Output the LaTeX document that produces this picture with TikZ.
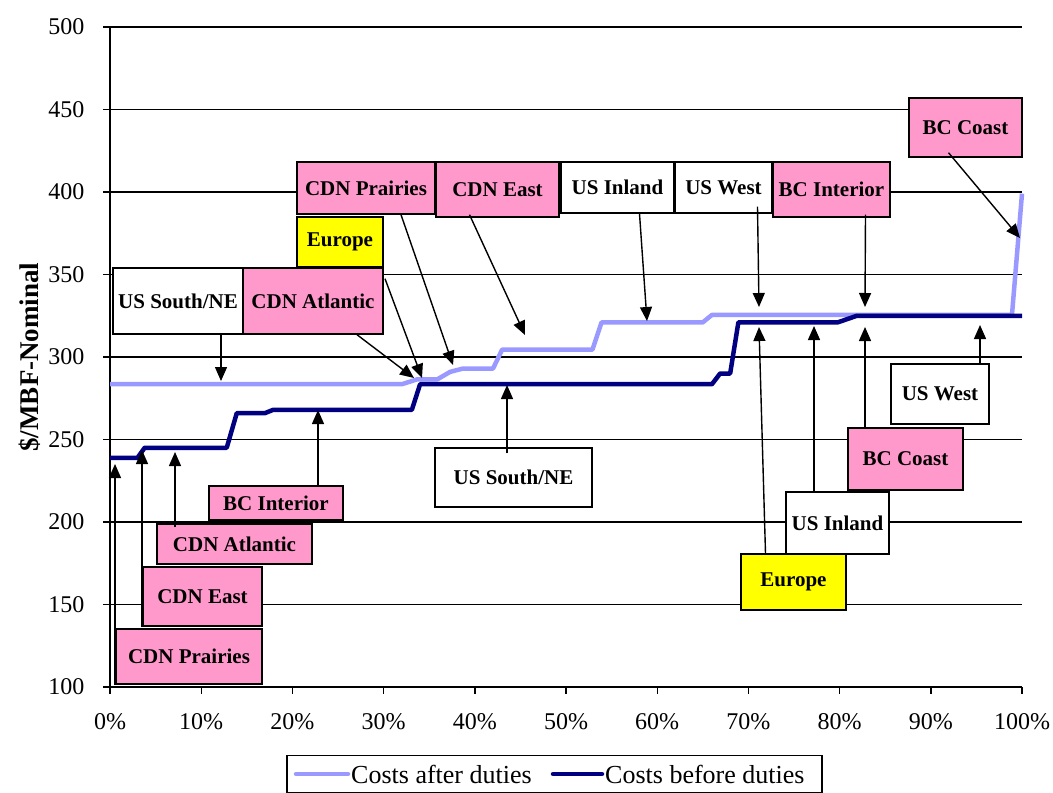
\documentclass[tikz,border=0pt]{standalone}
\usepackage{fontspec}
\setmainfont{Liberation Serif}
\usetikzlibrary{arrows.meta}

\definecolor{afterc}{HTML}{9999FF}
\definecolor{beforec}{HTML}{000080}
\definecolor{cdnpink}{HTML}{FF99CC}
\definecolor{euyellow}{HTML}{FFFF00}

\tikzset{
  lbl/.style={draw=black, line width=1.4pt, inner sep=0pt,
    font=\fontsize{21}{24}\selectfont\bfseries},
  cdn/.style={lbl, fill=cdnpink},
  us/.style={lbl, fill=white},
  eu/.style={lbl, fill=euyellow},
  sz/.style 2 args={minimum width=#1pt, minimum height=#2pt},
  ptr/.style={line width=1.4pt, -{Triangle[length=14pt,width=12pt]}},
  grid line/.style={line width=1.1pt},
  tick lbl/.style={font=\fontsize{24}{26}\selectfont},
}

\begin{document}
\begin{tikzpicture}[x=1pt, y=-1pt]
    \useasboundingbox (0,0) rectangle (1053,793);

    \begin{scope}[shift={(110,687)}, x=9.12pt, y=1.65pt]
    \foreach \v in {50,100,...,400}
        \draw[grid line] (0,\v) -- (100,\v);
    \draw[line width=1.4pt] (0,400) -- (0,0) -- (100,0);
    \foreach \v in {0,50,...,400} {
        \draw[line width=1.4pt] (0,\v) -- ++(-7pt,0pt);
        \pgfmathtruncatemacro{\lab}{\v+100}
        \node[tick lbl, anchor=east] (yl\lab) at ([xshift=-22pt]0,\v) {\lab};
    }
    \foreach \p in {0,10,...,100} {
        \draw[line width=1.4pt] (\p,0) -- ++(0pt,-7pt);
        \node[tick lbl] (xl\p) at ([yshift=-35pt]\p,0) {\p\%};
    }
    \draw[afterc, line width=4.5pt, line join=round]
        (0,183.5) -- (32,183.5) -- (33.7,186.5) -- (35.9,186.5) -- (37.3,191)
        -- (38.7,193) -- (42,193) -- (43,204.5) -- (52.9,204.5) -- (53.9,221)
        -- (65,221) -- (66,225.5) -- (98.9,225.5) -- (100,299);
    \draw[beforec, line width=4.5pt, line join=round]
        (0,138.8) -- (3,138.8) -- (3.8,145) -- (12.8,145) -- (13.9,166)
        -- (17,166) -- (17.9,168) -- (33.1,168) -- (34,183.5) -- (66,183.5)
        -- (66.9,190) -- (68,190) -- (68.9,221) -- (79.8,221) -- (81.9,225)
        -- (100,225);
    \end{scope}

    \node[rotate=90, font=\fontsize{27}{29}\selectfont\bfseries] (ytitle) at (30,357) {\$/MBF-Nominal};

    % boxes above the curves
    \node[cdn, sz={138}{52}] (cpA) at (366,188) {CDN Prairies};
    \node[cdn, sz={123}{55}] (ceA) at (497.5,189.5) {CDN East};
    \node[us, sz={113}{51}] (uiA) at (617.5,187.5) {US Inland};
    \node[us, sz={97}{51}] (uwA) at (723.5,187.5) {US West};
    \node[cdn, sz={117}{55}] (biA) at (831.5,189.5) {BC Interior};
    \node[cdn, sz={113}{59}] (bcA) at (965.5,127.5) {BC Coast};
    \node[eu, sz={86}{50}] (euA) at (340,242) {Europe};
    \node[us, sz={130}{66}] (usA) at (178,301) {US South/NE};
    \node[cdn, sz={140}{66}] (caA) at (313,301) {CDN Atlantic};

    % boxes below the curves
    \node[cdn, sz={134}{34}] (biB) at (276,503) {BC Interior};
    \node[cdn, sz={155}{40}] (caB) at (234.5,544) {CDN Atlantic};
    \node[cdn, sz={119}{59}] (ceB) at (202.5,596.5) {CDN East};
    \node[cdn, sz={146}{55}] (cpB) at (189,656.5) {CDN Prairies};
    \node[us, sz={157}{59}] (usB) at (513.5,477.5) {US South/NE};
    \node[us, sz={98}{60}] (uwB) at (940,394) {US West};
    \node[cdn, sz={115}{62}] (bcB) at (905.5,459) {BC Coast};
    \node[us, sz={103}{62}] (uiB) at (837.5,523) {US Inland};
    \node[eu, sz={105}{56}] (euB) at (793.5,582) {Europe};

    \coordinate (hA1) at (221,381);
    \coordinate (hA2) at (414,378);
    \coordinate (hA3) at (422,378);
    \coordinate (hA4) at (453,365);
    \coordinate (hA5) at (525,335);
    \coordinate (hA6) at (647,321);
    \coordinate (hA7) at (759,307);
    \coordinate (hA8) at (865,307);
    \coordinate (hA9) at (1020,238);
    \coordinate (hB1) at (115,464);
    \coordinate (hB2) at (142,450);
    \coordinate (hB3) at (175,452);
    \coordinate (hB4) at (318,410);
    \coordinate (hB5) at (507,385);
    \coordinate (hB6) at (759,327);
    \coordinate (hB7) at (814,326);
    \coordinate (hB8) at (865,327);
    \coordinate (hB9) at (980,325);

    \draw[ptr] (usA.south -| hA1) -- (hA1);
    \draw[ptr] ([xshift=44pt]caA.south) -- (hA2);
    \draw[ptr] ([xshift=45pt, yshift=-11pt]euA.south) -- (hA3);
    \draw[ptr] ([xshift=35pt]cpA.south) -- (hA4);
    \draw[ptr] ([xshift=-28pt, yshift=3pt]ceA.south) -- (hA5);
    \draw[ptr] ([xshift=22pt]uiA.south) -- (hA6);
    \draw[ptr] ([xshift=34pt, yshift=7pt]uwA.south) -- (hA7);
    \draw[ptr] ([xshift=34pt, yshift=3pt]biA.south) -- (hA8);
    \draw[ptr] ([xshift=-17pt, yshift=5pt]bcA.south) -- (hA9);

    \draw[ptr] (cpB.south west -| hB1) -- (hB1);
    \draw[ptr] (ceB.south west -| hB2) -- (hB2);
    \draw[ptr] ([yshift=-4pt]caB.north -| hB3) -- (hB3);
    \draw[ptr] (biB.north -| hB4) -- (hB4);
    \draw[ptr] ([yshift=-6pt]usB.north -| hB5) -- (hB5);
    \draw[ptr] ([xshift=-28pt]euB.north) -- (hB6);
    \draw[ptr] (uiB.north -| hB7) -- (hB7);
    \draw[ptr] (bcB.north -| hB8) -- (hB8);
    \draw[ptr] (uwB.north -| hB9) -- (hB9);

    % legend
    \node[draw, line width=1.3pt, sz={535}{37}] (leg) at (554.5,774) {};
    \draw[afterc, line width=4.5pt, line cap=round] (296,774) -- (348,774);
    \node[anchor=west, inner sep=1pt, font=\fontsize{26}{28}\selectfont] (legA) at (350,774) {Costs after duties};
    \draw[beforec, line width=4.5pt, line cap=round] (553,774) -- (602,774);
    \node[anchor=west, inner sep=1pt, font=\fontsize{26}{28}\selectfont] (legB) at (604,774) {Costs before duties};
\end{tikzpicture}
\end{document}
